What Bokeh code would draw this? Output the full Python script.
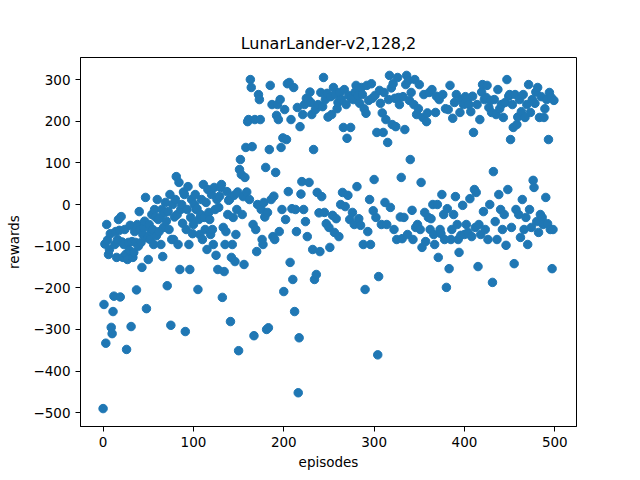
from bokeh.plotting import figure
from bokeh.models import Range1d, FixedTicker
from bokeh.embed import file_html
from bokeh.resources import INLINE

title_text = "LunarLander-v2,128,2"
x_label = "episodes"
y_label = "rewards"
x_ticks = [0, 100, 200, 300, 400, 500]
y_ticks = [-500, -400, -300, -200, -100, 0, 100, 200, 300]

rewards = [
    -490, -240, -95, -333, -48, -85, -120, -108, -70, -295,
    -310, -257, -220, -96, -65, -127, -84, -36, -62, -222,
    -29, -90, -127, -96, -60, -120, -348, -132, -91, -110,
    -50, -293, -89, -127, -115, -65, -91, -205, -48, -100,
    -17, -60, -91, -151, -72, -55, -40, 17, -250, -80,
    -132, -48, -84, -65, -24, -60, -96, -12, -30, -75,
    12, -36, -65, -31, -96, -12, -125, -55, -20, 5,
    -40, -195, -17, -60, 24, -290, -84, 0, -84, -30,
    12, 67, -24, -96, 53, -156, -12, 0, -45, 30,
    24, -305, -60, -12, 43, -96, -156, -31, 12, -70,
    -48, 0, 24, -12, -10, -204, -36, -72, -24, 12,
    -84, 48, -31, -60, 5, -108, 36, -19, -36, -72,
    24, -60, -96, 41, -12, -122, 12, -156, -7, 20,
    41, 48, -223, -55, -161, -96, -65, 31, -24, 10,
    12, -281, -127, -96, -31, 22, -137, -72, -12, 30,
    -351, 84, 108, 72, -24, 19, -144, 65, 137, 30,
    199, 204, 12, 300, 281, 139, -48, -315, 204, -60,
    -113, 0, 264, 252, 204, -12, -84, -96, 5, -30,
    89, -300, -19, -296, 132, 286, 12, 240, -77, 20,
    -84, 77, 214, 240, 204, -65, 252, 137, -12, 160,
    -209, 228, -36, 156, 290, 31, 293, -139, 204, -10,
    -180, 281, -257, -12, -65, 233, -452, -320, 187, 25,
    55, 216, -12, 240, -41, 255, -77, 252, 53, 270,
    245, 216, -108, 132, -180, 228, -168, 29, 240, -20,
    -113, 269, 19, 235, 305, -19, 252, -46, 267, 210,
    -55, -103, 259, 216, -26, 281, -67, 264, -34, 230,
    245, -77, 269, 0, 252, 29, 185, 276, -5, 240,
    159, 22, 262, -36, 185, 255, -19, 252, -48, 270,
    286, 43, 262, -34, 243, -50, 281, 264, -96, 230,
    -204, 219, 286, -65, 250, 12, -96, 290, 255, -15,
    60, 262, -31, 173, -361, -173, 274, 243, -48, 220,
    173, 269, 5, 204, -48, 149, 252, 310, -7, 280,
    192, 290, -60, 255, 187, -84, 305, 257, 240, -30,
    65, -82, 259, -31, 180, 288, 310, -72, 298, 250,
    108, 269, -14, -84, 240, 300, -55, 216, -48, 230,
    288, -60, 53, -103, 209, 264, -19, -89, 199, 220,
    -31, 269, -60, -34, 276, 0, -72, -96, 221, 260,
    0, -127, 252, -60, -70, 24, 264, -24, -84, 230,
    -199, -10, 228, -154, 286, -84, -60, 207, -24, 245,
    19, 264, -48, -84, -115, 221, -74, 252, -2, 240,
    -72, 259, -48, 252, -67, 240, 14, 223, -77, 260,
    173, 36, -55, 29, 240, -149, -48, 204, -72, 270,
    288, -17, 252, -60, 257, 286, -84, 233, 0, 250,
    221, -187, 79, 252, -41, 216, -84, 276, 24, 230,
    -12, 240, -60, 209, -24, 245, -98, 300, 36, 260,
    264, 156, -55, 240, 185, -142, 264, -12, 192, 210,
    -24, 252, -79, 223, 12, 264, -60, 209, -31, 240,
    -96, 288, -12, 221, -55, 252, 58, 41, 243, 270,
    -41, 281, -67, 209, -24, 259, -31, -48, 209, 230,
    17, 252, -46, 156, 269, -60, 257, -154, -60, 250,
]
episodes = list(range(len(rewards)))

FONT = "DejaVu Sans"

p = figure(width=632, height=472, output_backend="svg", toolbar_location=None,
           x_range=Range1d(-25, 524), y_range=Range1d(-533, 353),
           min_border_left=80, min_border_right=56, min_border_top=57, min_border_bottom=46)

p.title.text = title_text
p.title.align = "center"
p.title.text_font = FONT
p.title.text_font_size = "16px"
p.title.text_font_style = "normal"
p.title.text_color = "black"
p.title.offset = 2

p.scatter(episodes, rewards, size=8.5, fill_color="#1f77b4", line_color="#1f77b4")

p.xgrid.visible = False
p.ygrid.visible = False
p.outline_line_color = "black"
p.outline_line_width = 1
p.outline_line_alpha = 1

for ax, lab, ticks in ((p.xaxis[0], x_label, x_ticks), (p.yaxis[0], y_label, y_ticks)):
    ax.axis_label = lab
    ax.ticker = FixedTicker(ticks=ticks)
    ax.minor_tick_line_color = None
    ax.major_tick_out = 5
    ax.major_tick_in = 0
    ax.axis_label_text_font = FONT
    ax.axis_label_text_font_size = "13.5px"
    ax.axis_label_text_font_style = "normal"
    ax.axis_label_text_color = "black"
    ax.major_label_text_font = FONT
    ax.major_label_text_font_size = "13.5px"
    ax.major_label_text_color = "black"
    ax.axis_line_color = "black"
    ax.major_tick_line_color = "black"

p.xaxis.axis_label_standoff = 4
p.yaxis.axis_label_standoff = 8
p.yaxis.major_label_orientation = "horizontal"

p.background_fill_color = "white"
p.border_fill_color = "white"

open("out.html", "w").write(file_html(p, INLINE))
